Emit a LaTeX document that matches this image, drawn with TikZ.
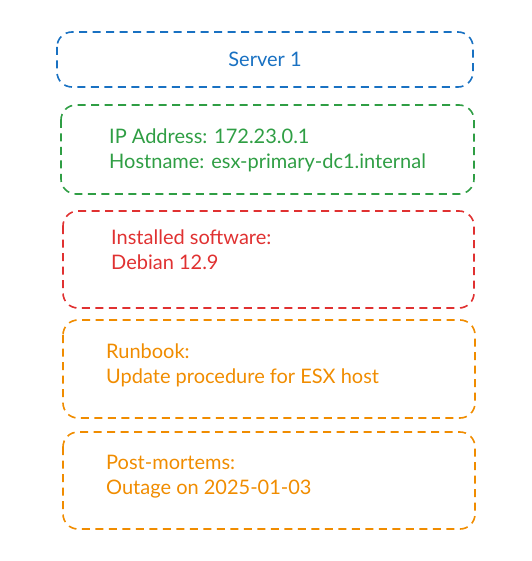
\documentclass[tikz,border=0pt]{standalone}
\usepackage{fontspec}
\setmainfont{Lato}
\definecolor{cblue}{HTML}{1971C2}
\definecolor{cgreen}{HTML}{2F9E44}
\definecolor{cred}{HTML}{E03131}
\definecolor{corange}{HTML}{F08C00}
\begin{document}
\begin{tikzpicture}[x=1pt,y=-1pt,
  card/.style={line width=1.6pt, dash pattern=on 8pt off 5.5pt, rounded corners=15pt},
  txt/.style={anchor=west, font=\fontsize{20}{25}\selectfont, align=left, inner sep=0pt}]
\useasboundingbox (0,0) rectangle (531,561);
% server header
\draw[card, cblue] (57,32) rectangle (473,87);
\node[txt, anchor=center, text=cblue] (title) at (265,59) {Server 1};
% network details
\draw[card, cgreen] (61,105) rectangle (474,194);
\node[txt, text=cgreen] (net) at (109,150) {IP Address: 172.23.0.1\\Hostname: esx-primary-dc1.internal};
% software
\draw[card, cred] (63,211) rectangle (474,308);
\node[txt, text=cred] (sw) at (111,250) {Installed software:\\Debian 12.9};
% runbook
\draw[card, corange] (63,320) rectangle (475,418);
\node[txt, text=corange] (rb) at (106,365) {Runbook:\\Update procedure for ESX host};
% post-mortems
\draw[card, corange] (63,432) rectangle (475,529);
\node[txt, text=corange] (pm) at (106,477) {Post-mortems:\\Outage on 2025-01-03};
\end{tikzpicture}
\end{document}
